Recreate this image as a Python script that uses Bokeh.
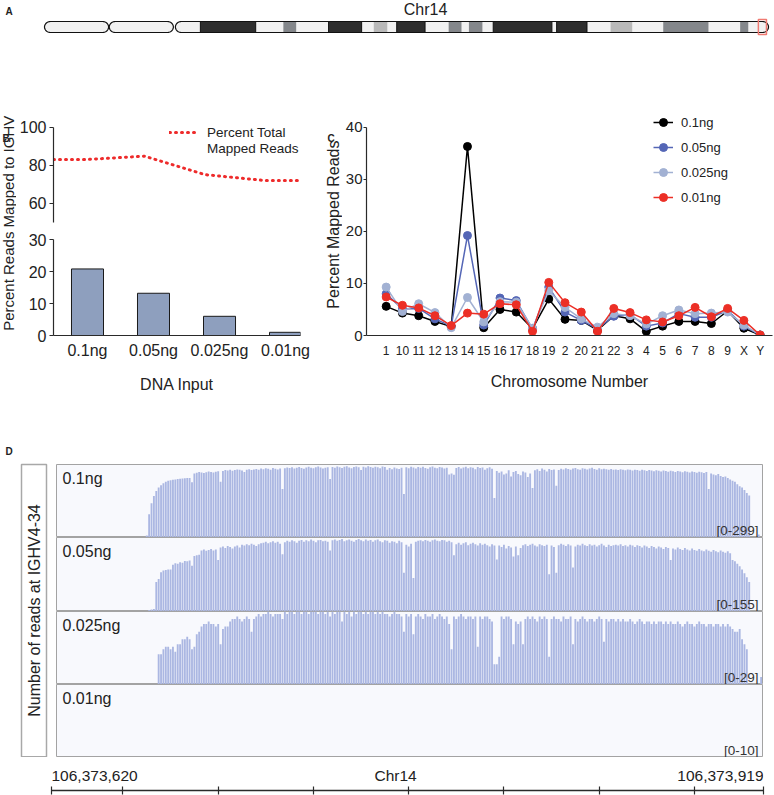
import numpy as np
from bokeh.plotting import figure
from bokeh.models import Range1d, FixedTicker, Legend, LegendItem
from bokeh.layouts import column, row
from bokeh.embed import file_html
from bokeh.resources import INLINE
from bokeh.core.properties import value

FONT = "Liberation Sans"
INK = "#222222"

# ---------------- data ----------------
# Panel A: chromosome 14 ideogram (positions in Mb)
lobe_start = [0.0, 9.6]
lobe_end = [9.5, 19.1]
body_start, body_end = 19.4, 107.3
band_start = [23.1, 35.4, 42.1, 48.8, 52.2, 59.9, 62.9, 66.5, 75.9, 83.9, 91.7, 103.1]
band_end = [31.3, 37.3, 47.0, 50.8, 56.4, 61.8, 64.9, 75.2, 80.4, 87.1, 98.4, 104.3]
band_stain = ["dark", "grey", "dark", "light", "dark", "grey", "grey", "dark", "dark", "light", "grey", "grey"]
ighv_start, ighv_end = 105.8, 107.0

# Panel B
dna_inputs = ["0.1ng", "0.05ng", "0.025ng", "0.01ng"]
pct_reads_ighv = [20.8, 13.2, 6.0, 1.0]
pct_total_mapped = [83.1, 84.9, 75.2, 72.1]

# Panel C
chromosomes = ["1", "10", "11", "12", "13", "14", "15", "16", "17", "18", "19", "2",
               "20", "21", "22", "3", "4", "5", "6", "7", "8", "9", "X", "Y"]
pm_01 = [5.6, 4.3, 3.8, 2.7, 1.7, 36.3, 1.5, 5.0, 4.5, 1.3, 7.0, 3.1, 2.9, 1.0, 3.8, 3.2, 0.8, 1.8, 2.7, 2.7, 2.3, 4.7, 1.4, 0.1]
pm_005 = [8.0, 5.1, 5.2, 3.2, 1.8, 19.2, 2.0, 7.2, 6.7, 1.2, 9.3, 4.5, 2.9, 1.3, 3.7, 4.0, 1.8, 2.4, 4.2, 3.5, 3.5, 4.8, 1.8, 0.1]
pm_0025 = [9.3, 4.6, 6.1, 4.4, 1.5, 7.3, 2.6, 6.5, 6.4, 1.4, 8.6, 5.4, 3.2, 1.6, 4.2, 3.8, 2.2, 3.8, 4.9, 4.2, 4.3, 4.5, 2.0, 0.1]
pm_001 = [7.4, 5.8, 5.3, 3.8, 1.9, 4.3, 4.1, 6.1, 5.9, 0.8, 10.2, 6.3, 4.5, 0.8, 5.2, 4.4, 3.0, 2.6, 3.8, 5.4, 3.6, 5.2, 2.9, 0.1]

# Panel D: per-base coverage at IGHV4-34 (chr14:106,373,620-106,373,919; positions are the last 3 digits)
ruler_start, ruler_end = 620, 919
ruler_ticks = [620, 650, 690, 730, 770, 810, 850, 890, 919]
cov_01_start = 660
cov_01 = [8, 95, 140, 170, 190, 205, 214, 222, 228, 232, 235, 237, 238, 240, 241, 242, 243, 244, 244, 226,
          262, 265, 268, 266, 264, 267, 270, 268, 266, 269, 271, 228,
          272, 276, 274, 278, 273, 276, 279, 277, 274, 268, 278, 280, 276, 279,
          281, 278, 283, 280, 284, 282, 277, 285, 282, 279, 283, 199,
          284, 287, 285, 288, 283, 286, 289, 285, 282, 287, 290, 286, 284, 288, 291, 287, 283, 286, 288, 240,
          289, 286, 291, 288, 285, 290, 292, 287, 284, 289, 291, 288, 276, 290, 287, 292, 289, 286, 290, 288,
          284, 291, 289, 278, 285, 280, 287, 283, 281, 286, 178,
          288, 284, 290, 287, 283, 289, 286, 290, 285, 282, 288, 291, 286, 284, 289, 287, 283, 286,
          258, 262, 257,
          285, 289, 283, 287, 290, 284, 288, 286, 280, 289, 285, 287, 278, 284, 288, 282, 162,
          272, 265, 270, 258, 262, 275, 250, 268, 272, 260, 255, 270, 266, 248, 262, 203,
          275, 280, 272, 283, 278, 270, 281, 276, 279, 212,
          276, 282, 279, 284, 281, 277, 283, 285, 280, 278, 284, 282, 279, 283, 286, 281, 278, 284, 280, 282,
          280, 278, 281, 277, 279, 276, 280, 278, 275, 279, 277, 274, 278, 276, 273, 277, 275, 272, 276, 274,
          271, 275, 273, 270, 274, 272, 269, 273, 271, 268, 272, 270, 267, 271, 269, 266, 270, 268, 265, 269,
          267, 264, 268, 199,
          262, 258, 255, 260, 252, 248, 250, 244, 238, 232, 228, 218, 210, 205, 195, 182, 172,
          0, 0, 0, 12]
cov_005_start = 661
cov_005 = [3, 4, 5, 62, 68, 82, 86, 87, 88, 88, 98, 101, 100, 103, 102, 106, 105, 107, 96,
           116, 118, 119, 128, 130, 127, 129, 131, 128, 130, 108,
           134, 136, 133, 137, 135, 132, 136, 138, 134, 140, 138, 141, 139, 142, 140, 137, 141, 143,
           144, 146, 143, 145, 147, 144, 146, 142, 120,
           145, 148, 146, 149, 147, 144, 148, 150, 146, 149, 147, 151, 148, 145, 149, 150, 147, 148, 146, 128,
           149, 151, 148, 150, 152, 147, 149, 151, 148, 146, 150, 152, 149, 147, 151, 148, 150, 146, 149, 151,
           147, 145, 149, 148, 144, 147, 146, 143, 148, 145, 81, 140, 136, 142, 70,
           146, 148, 149, 147, 150, 148, 146, 149, 151, 148, 147, 150, 149, 146, 148, 145, 118,
           141, 144, 140, 143, 145, 139, 142, 144, 141, 138, 143, 140, 142, 139, 136, 141, 138, 109,
           138, 135, 140, 132, 137, 134, 115, 136, 118, 133,
           139, 141, 137, 140, 142, 138, 136, 141, 139, 137, 140, 78, 138, 135, 81,
           139, 142, 140, 137, 141, 138, 92,
           136, 140, 138, 142, 139, 137, 141, 138, 140, 136, 139, 142, 138, 135, 140, 137, 139,
           140, 138, 141, 137, 139, 136, 140, 138, 135, 139, 137, 134, 138, 136, 133, 137, 135, 132, 136, 134,
           131, 135, 133, 108,
           132, 130, 134, 131, 129, 133, 130, 128, 132, 129, 127, 131, 128, 126, 130, 127, 125, 129, 126, 124,
           128, 125, 123, 126, 122, 108, 105, 100, 95, 88, 80, 72, 62]
cov_0025_start = 665
cov_0025 = [12, 12, 14, 15, 15, 14, 15, 13, 16, 16, 18, 18, 19, 18, 14, 15, 20, 21,
            23, 24, 24, 25, 24, 24, 23, 24, 16, 22, 23, 23, 25, 26, 26, 27, 26, 25, 26, 27, 26, 21, 26, 27,
            28, 27, 28, 28, 29, 28, 27, 28, 28, 28, 26,
            29, 28, 29, 29, 28, 29, 29, 28, 29, 29, 28, 29, 29, 29, 28, 29, 29, 28, 29, 27,
            29, 28, 29, 29, 25,
            29, 28, 29, 27, 29, 28, 29, 29, 28, 29, 28, 29, 29, 28, 29, 28, 29, 28, 28, 27, 28, 29, 28, 28, 27,
            21, 28, 27, 28, 20,
            27, 28, 27, 26, 28, 27, 27, 28, 26, 27, 28, 27, 26, 27, 24, 14,
            27, 26, 27, 28, 27, 26, 27, 27, 26, 27, 15, 27, 26, 27, 27, 26, 25, 8, 8, 11,
            27, 26, 27, 27, 26, 16, 25, 24, 25, 16,
            26, 27, 26, 27, 26, 25, 27, 26, 27, 26, 11, 26, 27, 26, 26, 25, 27, 26, 26, 27, 16,
            26, 25, 26, 27, 26, 25, 26, 26, 25, 26, 27, 26, 17,
            26, 25, 26, 26, 25, 26, 25, 26, 25, 25, 26, 25, 24, 25, 26, 25, 24, 25, 25, 24, 25, 24, 25, 25, 24, 25,
            24, 25, 24, 24, 25, 24, 23, 24, 25, 24, 24, 23, 24, 25, 24, 24, 23, 24, 24, 23, 24, 24, 23, 24, 23, 24, 23,
            22, 21, 21, 22, 18, 16, 14, 0, 0, 0, 0, 0, 3]
track_names = ["0.1ng", "0.05ng", "0.025ng", "0.01ng"]
track_scales = [299, 155, 29, 10]

# ---------------- helpers ----------------
def blank(width, height, xr, yr):
    p = figure(width=width, height=height, x_range=xr, y_range=yr, toolbar_location=None,
               output_backend="svg", x_axis_type=None, y_axis_type=None, title=None,
               min_border_left=0, min_border_right=0, min_border_top=0, min_border_bottom=0)
    p.outline_line_color = None
    return p


def txt(p, x, y, s, size, align="left", angle=0.0, bold=False, color=INK):
    p.text(x=[x], y=[y], text=[s], text_font=value(FONT), text_font_size=value(size),
           text_align=align, text_baseline="middle", angle=angle, text_color=color,
           text_font_style="bold" if bold else "normal")


def style_axis(ax, size):
    ax.axis_line_color = "#2a2a2a"
    ax.axis_line_width = 1.2
    ax.major_tick_line_color = "#2a2a2a"
    ax.major_tick_line_width = 1.2
    ax.minor_tick_line_color = None
    ax.major_label_text_font = FONT
    ax.major_label_text_font_size = size
    ax.major_label_text_color = INK
    ax.axis_label_text_font = FONT
    ax.axis_label_text_font_style = "normal"
    ax.axis_label_text_color = INK


# ---------------- Panel A ----------------
px_per_mb = 724.0 / 107.3
mb0 = -44.0 / px_per_mb
figA = blank(774, 48, Range1d(mb0, mb0 + 774 / px_per_mb), Range1d(0, 48))
yc, ry, rx = 21.5, 5.5, 6.0 / px_per_mb


def stadium(x0, x1):
    t1 = np.linspace(-np.pi / 2, np.pi / 2, 24)
    t2 = np.linspace(np.pi / 2, 3 * np.pi / 2, 24)
    xs = np.concatenate([(x1 - rx) + rx * np.cos(t1), (x0 + rx) + rx * np.cos(t2)])
    ys = np.concatenate([yc + ry * np.sin(t1), yc + ry * np.sin(t2)])
    return list(xs), list(ys)


for a, b in zip(lobe_start, lobe_end):
    xs, ys = stadium(a, b)
    figA.patch(xs, ys, fill_color="#f1f1f1", line_color="#111111", line_width=1.2)
bx, by = stadium(body_start, body_end)
figA.patch(bx, by, fill_color="#f1f1f1", line_color=None)
stain_col = {"dark": "#2e2e2e", "grey": "#84878b", "light": "#b9b9b9"}
figA.quad(left=band_start, right=band_end, bottom=yc - ry, top=yc + ry,
          fill_color=[stain_col[s] for s in band_stain],
          line_color=["#111111" if s == "dark" else None for s in band_stain], line_width=1)
figA.patch(bx, by, fill_color=None, line_color="#111111", line_width=1.2)
figA.quad(left=[ighv_start], right=[ighv_end], bottom=yc - 7.5, top=yc + 7.5,
          fill_color=None, line_color="#f07a72", line_width=1.5)
txt(figA, mb0 + 5 / px_per_mb, 37, "A", "10px", bold=True)
txt(figA, mb0 + 425 / px_per_mb, 39, "Chr14", "16px", align="center")

# ---------------- Panel B ----------------
labB = blank(16, 352, Range1d(0, 16), Range1d(0, 352))
txt(labB, 2, 306, "B", "10px", bold=True)
txt(labB, 8, 174, "Percent Reads Mapped to IGHV", "15px", align="center", angle=np.pi / 2)

idx_b = list(range(len(dna_inputs)))
bt = figure(width=308, height=183, x_range=Range1d(-0.515, 3.591), y_range=Range1d(50, 114.2),
            toolbar_location=None, output_backend="svg", x_axis_type=None, title=None,
            min_border_left=37, min_border_right=0, min_border_top=52, min_border_bottom=9)
bt.outline_line_color = None
bt.grid.visible = False
style_axis(bt.yaxis[0], "16px")
bt.yaxis.ticker = FixedTicker(ticks=[60, 80, 100])
bt.yaxis.bounds = (50, 100)
bt.yaxis.major_tick_in = 0
bt.yaxis.major_tick_out = 4
bt.yaxis.major_label_standoff = 3
xline = [bt.x_range.start] + idx_b + [bt.x_range.end]
yline = [pct_total_mapped[0]] + pct_total_mapped + [pct_total_mapped[-1]]
red = bt.line(xline, yline, line_color="#ee2b2b", line_width=3, line_dash="1 5", line_cap="round")
ghost = bt.line([], [], line_alpha=0)
legB = Legend(items=[LegendItem(label="Percent Total", renderers=[red]),
                     LegendItem(label="Mapped Reads", renderers=[ghost])],
              location=(116, 66), border_line_color=None, background_fill_alpha=0,
              padding=4, margin=0, spacing=0, glyph_width=30, glyph_height=16, label_height=16,
              label_width=112, label_standoff=8, label_text_font=FONT, label_text_font_size="13.5px",
              label_text_color=INK)
bt.add_layout(legB)

bb = figure(width=308, height=169, x_range=Range1d(-0.515, 3.227), y_range=Range1d(0, 30),
            toolbar_location=None, output_backend="svg", title=None,
            min_border_left=37, min_border_right=24, min_border_top=8, min_border_bottom=65)
bb.outline_line_color = None
bb.grid.visible = False
bb.vbar(x=idx_b, top=pct_reads_ighv, width=0.485, fill_color="#8e9fbe", line_color="#1a1a1a", line_width=1)
style_axis(bb.yaxis[0], "16px")
bb.yaxis.ticker = FixedTicker(ticks=[0, 10, 20, 30])
bb.yaxis.major_tick_in = 0
bb.yaxis.major_tick_out = 4
bb.yaxis.major_label_standoff = 3
style_axis(bb.xaxis[0], "16px")
bb.xaxis.ticker = FixedTicker(ticks=idx_b)
bb.xaxis.major_label_overrides = {i: s for i, s in zip(idx_b, dna_inputs)}
bb.xaxis.major_tick_in = 0
bb.xaxis.major_tick_out = 0
bb.xaxis.major_label_standoff = 6
bb.xaxis.axis_label = "DNA Input"
bb.xaxis.axis_label_text_font_size = "16px"
bb.xaxis.axis_label_standoff = 14

# ---------------- Panel C ----------------
labC = blank(18, 352, Range1d(0, 18), Range1d(0, 352))
txt(labC, 3, 305, "C", "10px", bold=True)
txt(labC, 9, 172, "Percent Mapped Reads", "16px", align="center", angle=np.pi / 2)

idx_c = list(range(len(chromosomes)))
pc = figure(width=432, height=352, x_range=Range1d(-1.21, 23.76), y_range=Range1d(0, 43.59),
            toolbar_location=None, output_backend="svg", title=None,
            min_border_left=18, min_border_right=2, min_border_top=60, min_border_bottom=65)
pc.outline_line_color = None
pc.grid.visible = False
style_axis(pc.yaxis[0], "15px")
pc.yaxis.ticker = FixedTicker(ticks=[0, 10, 20, 30, 40])
pc.yaxis.bounds = (0, 40)
pc.yaxis.major_tick_in = 0
pc.yaxis.major_tick_out = 3
pc.yaxis.major_label_standoff = 1
style_axis(pc.xaxis[0], "12px")
pc.xaxis.ticker = FixedTicker(ticks=idx_c)
pc.xaxis.major_label_overrides = {i: s for i, s in zip(idx_c, chromosomes)}
pc.xaxis.major_tick_in = 0
pc.xaxis.major_tick_out = 0
pc.xaxis.major_label_standoff = 8
pc.xaxis.axis_label = "Chromosome Number"
pc.xaxis.axis_label_text_font_size = "16px"
pc.xaxis.axis_label_standoff = 12

series = [("0.1ng", pm_01, "#000000"), ("0.05ng", pm_005, "#5466b6"),
          ("0.025ng", pm_0025, "#a2b1d3"), ("0.01ng", pm_001, "#ec2f26")]
items = []
for name, vals, col in series:
    ln = pc.line(idx_c, vals, line_color=col, line_width=1.5)
    sc = pc.scatter(idx_c, vals, size=8, fill_color=col, line_color=col)
    items.append(LegendItem(label=name, renderers=[ln, sc]))
legC = Legend(items=items, location=(287, 128), border_line_color=None, background_fill_alpha=0,
              padding=0, margin=0, spacing=5, glyph_width=20, glyph_height=20, label_height=20,
              label_standoff=8, label_text_font=FONT, label_text_font_size="13px", label_text_color=INK)
pc.add_layout(legC)

# ---------------- Panel D ----------------
labD = blank(54, 357, Range1d(0, 54), Range1d(0, 357))
labD.quad(left=[21], right=[46], bottom=[0.8], top=[293], fill_color="white",
          line_color="#a8a8a8", line_width=1.5)
txt(labD, 5, 306, "D", "10px", bold=True)
txt(labD, 33.5, 147, "Number of reads at IGHV4-34", "16px", align="center", angle=np.pi / 2)

px_per_bp = 712.0 / (ruler_end - ruler_start)
track_x = Range1d(ruler_start + 5 / px_per_bp, ruler_start + 711 / px_per_bp)


def track(start, vals, ymax, name, h, top):
    p = figure(width=720, height=h + top, x_range=track_x, y_range=Range1d(0, ymax), title=None,
               x_axis_type=None, y_axis_type=None, toolbar_location=None, output_backend="svg",
               min_border_left=2, min_border_right=12, min_border_top=top, min_border_bottom=0)
    p.background_fill_color = "#f8f9fd"
    p.outline_line_color = "#a3a3a3"
    p.outline_line_width = 1
    if vals:
        xs = [start + i for i in range(len(vals))]
        p.vbar(x=xs, top=vals, bottom=0, width=0.78, fill_color="#abb7e2", line_color=None)
    txt(p, track_x.start + 6 / px_per_bp, ymax * (1 - 14.0 / h), name, "16px")
    txt(p, track_x.end - 4 / px_per_bp, ymax * 7.5 / h, "[0-%d]" % ymax, "13.5px", align="right",
        color="#333333")
    return p


t1 = track(cov_01_start, cov_01, track_scales[0], track_names[0], 73, 64)
t2 = track(cov_005_start, cov_005, track_scales[1], track_names[1], 74, 0)
t3 = track(cov_0025_start, cov_0025, track_scales[2], track_names[2], 73, 0)
t4 = track(0, [], track_scales[3], track_names[3], 73, 0)

ruler = figure(width=774, height=38, x_range=Range1d(ruler_start, ruler_end), y_range=Range1d(0, 1),
               y_axis_type=None, toolbar_location=None, output_backend="svg", title=None,
               min_border_left=51, min_border_right=11, min_border_top=0, min_border_bottom=5)
ruler.outline_line_color = None
ruler.grid.visible = False
style_axis(ruler.xaxis[0], "10px")
ruler.xaxis.ticker = FixedTicker(ticks=ruler_ticks)
ruler.xaxis.major_label_overrides = {t: "" for t in ruler_ticks}
ruler.xaxis.major_label_text_color = None
ruler.xaxis.major_tick_in = 4
ruler.xaxis.major_tick_out = 4
ruler.xaxis.major_label_standoff = 0
ruler.xaxis.axis_line_width = 1.3
txt(ruler, ruler_start, 0.45, "106,373,%d" % ruler_start, "15.5px")
txt(ruler, ruler_start + 144.5, 0.45, "Chr14", "15.5px", align="center")
txt(ruler, ruler_end, 0.45, "106,373,%d" % ruler_end, "15.5px", align="right")

layout = column(
    figA,
    row(labB, column(bt, bb), labC, pc),
    column(row(labD, column(t1, t2, t3, t4)), ruler),
)

open("out.html", "w").write(file_html(layout, INLINE))
